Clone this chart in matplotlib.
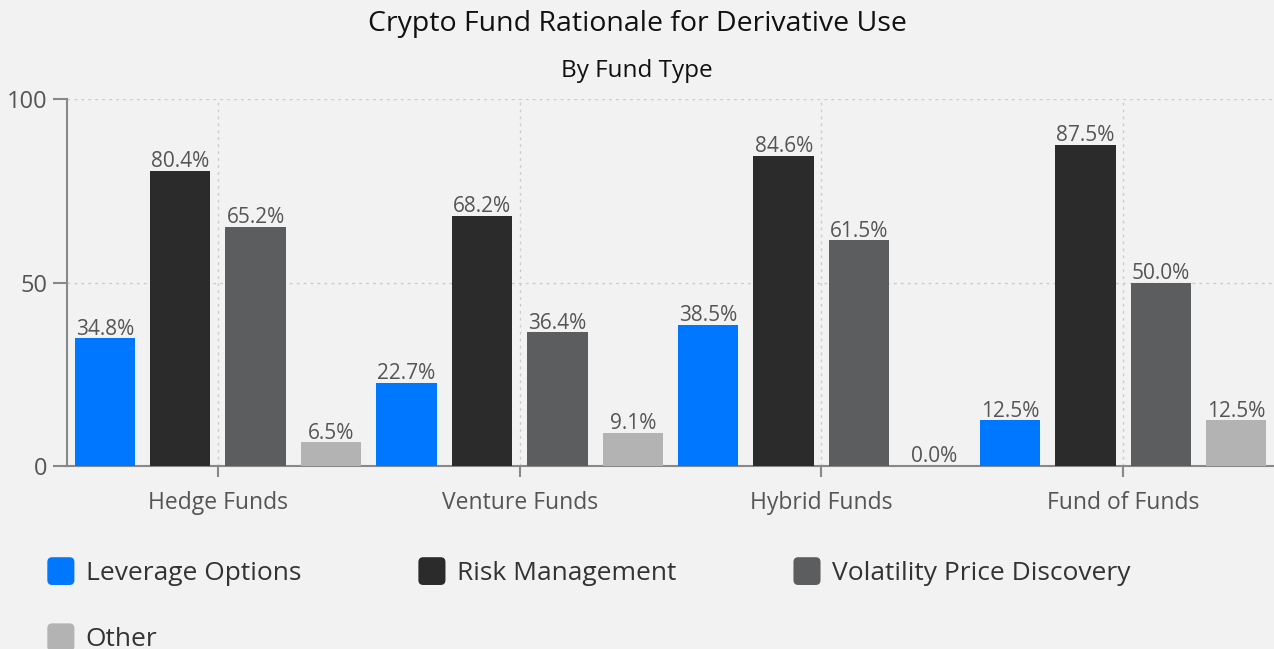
import matplotlib
matplotlib.use("Agg")
import matplotlib.pyplot as plt
import numpy as np
from matplotlib.patches import FancyBboxPatch, Patch
from matplotlib.legend_handler import HandlerPatch

# data
fund_types = ["Hedge Funds", "Venture Funds", "Hybrid Funds", "Fund of Funds"]
series_names = ["Leverage Options", "Risk Management", "Volatility Price Discovery", "Other"]
leverage = [34.8, 22.7, 38.5, 12.5]
risk = [80.4, 68.2, 84.6, 87.5]
volatility = [65.2, 36.4, 61.5, 50.0]
other = [6.5, 9.1, 0.0, 12.5]
colors = ["#0077ff", "#2b2b2b", "#5c5d5f", "#b3b3b3"]

plt.rcParams["font.family"] = ["Open Sans", "DejaVu Sans"]
bg = "#f2f2f2"

fig = plt.figure(figsize=(12.74, 6.49), dpi=100, facecolor=bg)
ax = fig.add_axes([67 / 1274, 1 - 466 / 649, 1 - 67 / 1274, (466 - 99) / 649])
ax.set_facecolor(bg)

x = np.arange(len(fund_types))
offsets = [-0.375, -0.125, 0.125, 0.375]
for vals, off, col in zip([leverage, risk, volatility, other], offsets, colors):
    bars = ax.bar(x + off, vals, width=0.2, color=col, zorder=3)
    ax.bar_label(bars, labels=[f"{v:.1f}%" for v in vals], padding=-1,
                 fontsize=15, color="#555555")

ax.set_xlim(-0.5, 3.5)
ax.set_ylim(0, 100)
ax.set_yticks([0, 50, 100])
ax.set_xticks(x)
ax.set_xticklabels(fund_types)
ax.tick_params(axis="both", colors="#888888", labelcolor="#555555", width=1.5)
ax.tick_params(axis="y", length=10, labelsize=17, pad=4)
ax.tick_params(axis="x", length=8, pad=10, labelsize=16.5)
ax.grid(True, color="#cccccc", linestyle=(0, (2, 3)), linewidth=1, zorder=0)
for side in ["top", "right"]:
    ax.spines[side].set_visible(False)
for side in ["left", "bottom"]:
    ax.spines[side].set_color("#888888")
    ax.spines[side].set_linewidth(1.5)

fig.text(0.5, 1 - 24 / 649, "Crypto Fund Rationale for Derivative Use", ha="center",
         va="center", fontsize=20.5, color="#111111")
fig.text(0.5, 1 - 71 / 649, "By Fund Type", ha="center", va="center",
         fontsize=17.5, color="#111111")


def rounded_square(legend, orig_handle, xdescent, ydescent, width, height, fontsize):
    w, h = 19.5, 20.0
    x0 = -xdescent + (width - w) / 2
    y0 = -ydescent + (height - h) / 2
    return FancyBboxPatch((x0, y0), w, h, boxstyle="round,pad=0,rounding_size=3.5")


# legend filled row by row: reorder for matplotlib's column-major fill
handles = [Patch(facecolor=c, edgecolor="none") for c in colors]
order = [0, 3, 1, 2]
fig.legend([handles[i] for i in order], [series_names[i] for i in order],
           loc="upper left", bbox_to_anchor=(47 / 1274, 1 - 561 / 649),
           ncol=3, frameon=False, fontsize=19, labelcolor="#333333",
           borderpad=0, borderaxespad=0,
           handletextpad=0.42, handlelength=1.05, handleheight=0.8,
           columnspacing=4.43, labelspacing=1.55,
           handler_map={Patch: HandlerPatch(patch_func=rounded_square)})

fig.savefig("out.png", dpi=100, facecolor=bg)
